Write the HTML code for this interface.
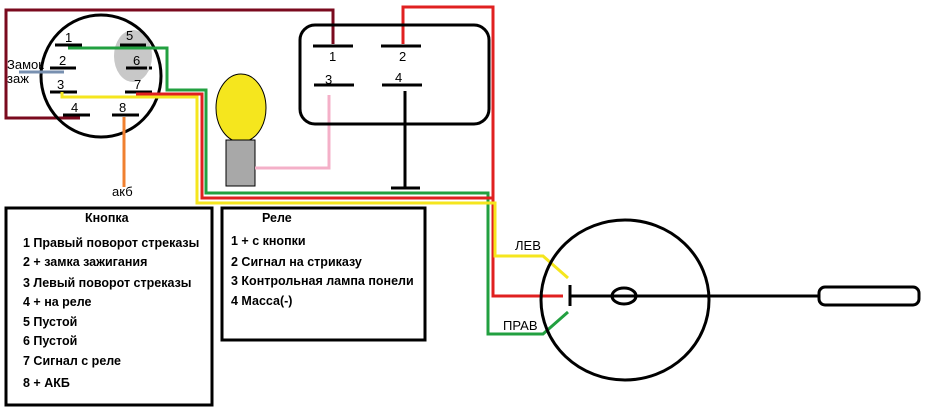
<!DOCTYPE html>
<html><head><meta charset="utf-8"><style>
html,body{margin:0;padding:0;background:#fff;}
svg{display:block;}
text{font-family:"Liberation Sans","DejaVu Sans",sans-serif;}
.b{font-weight:bold;font-size:12.5px;fill:#000;}
.n{font-size:13px;fill:#000;}
</style></head><body>
<svg width="925" height="411" viewBox="0 0 925 411" xmlns="http://www.w3.org/2000/svg">
<rect width="925" height="411" fill="#fff"/>
<!-- maroon -->
<polyline points="80,118 6,118 6,10 333,10 333,44" fill="none" stroke="#7a0a1e" stroke-width="3"/>
<!-- ignition circle -->
<ellipse cx="133" cy="56" rx="19" ry="26" fill="#c8c8c8"/>
<ellipse cx="101" cy="76" rx="60" ry="61" fill="none" stroke="#000" stroke-width="3"/>
<g stroke="#000" stroke-width="3">
<line x1="55" y1="45" x2="82" y2="45"/><line x1="50" y1="68" x2="76" y2="68"/>
<line x1="50" y1="92" x2="77" y2="92"/><line x1="63" y1="115" x2="90" y2="115"/>
<line x1="120" y1="45" x2="146" y2="45"/><line x1="126" y1="68" x2="147" y2="68"/><line x1="149" y1="68" x2="152" y2="68"/>
<line x1="125" y1="92" x2="152" y2="92"/><line x1="112" y1="115" x2="139" y2="115"/>
</g>
<g class="n" font-size="13">
<text x="65" y="42">1</text><text x="59" y="65">2</text><text x="57" y="89">3</text><text x="71" y="112">4</text>
<text x="126" y="40">5</text><text x="133" y="65">6</text><text x="134" y="89">7</text><text x="119" y="112">8</text>
</g>
<line x1="19" y1="72" x2="64" y2="72" stroke="#7890b0" stroke-width="3"/>
<text x="7" y="69" class="n" font-size="11">Замок</text>
<text x="7" y="83" class="n" font-size="11">заж</text>
<!-- orange -->
<line x1="124" y1="117" x2="124" y2="187" stroke="#f08030" stroke-width="3"/>
<text x="112" y="196" class="n" font-size="12">акб</text>
<!-- wires -->
<polyline points="68,48 167,48 167,90 206,90 206,193 488,193 488,334 543,334 568,312" fill="none" stroke="#22a040" stroke-width="3"/>
<polyline points="136,94 202,94 202,198 493,198" fill="none" stroke="#e02020" stroke-width="3"/>
<polyline points="403,44 403,7 493,7 493,296 563,296" fill="none" stroke="#e02020" stroke-width="3"/>
<polyline points="62,92 62,97 197,97 197,203 495,203 495,256 543,256 568,278" fill="none" stroke="#f5e61e" stroke-width="3"/>
<!-- bulb -->
<ellipse cx="241" cy="108" rx="25" ry="34" fill="#f5e61e" stroke="#000" stroke-width="1"/>
<rect x="226" y="140" width="29" height="46" fill="#a8a8a8" stroke="#000" stroke-width="1"/>
<polyline points="255,168 329,168 329,95" fill="none" stroke="#f4b0c8" stroke-width="3"/>
<!-- relay -->
<rect x="300" y="25" width="189" height="99" rx="15" fill="none" stroke="#000" stroke-width="3"/>
<g stroke="#000" stroke-width="3">
<line x1="313" y1="46" x2="353" y2="46"/><line x1="381" y1="46" x2="421" y2="46"/>
<line x1="314" y1="85" x2="354" y2="85"/><line x1="382" y1="85" x2="422" y2="85"/>
<line x1="405" y1="91" x2="405" y2="188"/><line x1="391" y1="188" x2="420" y2="188"/>
</g>
<g class="n"><text x="329" y="61">1</text><text x="399" y="61">2</text><text x="325" y="84">3</text><text x="395" y="82">4</text></g>
<!-- text boxes -->
<rect x="6" y="208" width="206" height="197" fill="none" stroke="#000" stroke-width="3"/>
<rect x="222" y="208" width="203" height="132" fill="none" stroke="#000" stroke-width="3"/>
<g class="b">
<text x="85" y="222">Кнопка</text>
<text x="23" y="247">1 Правый поворот стреказы</text>
<text x="23" y="266">2 + замка зажигания</text>
<text x="23" y="287">3 Левый поворот стреказы</text>
<text x="23" y="306">4 + на реле</text>
<text x="23" y="326">5 Пустой</text>
<text x="23" y="345">6 Пустой</text>
<text x="23" y="365">7 Сигнал с реле</text>
<text x="23" y="387">8 + АКБ</text>
<text x="262" y="222">Реле</text>
<text x="231" y="245">1 + с кнопки</text>
<text x="231" y="266">2 Сигнал на стриказу</text>
<text x="231" y="285">3 Контрольная лампа понели</text>
<text x="231" y="305">4 Масса(-)</text>
</g>
<!-- steering -->
<ellipse cx="625" cy="300" rx="84" ry="80" fill="none" stroke="#000" stroke-width="3"/>
<line x1="570" y1="296" x2="818" y2="296" stroke="#000" stroke-width="3"/>
<line x1="570" y1="285" x2="570" y2="306" stroke="#000" stroke-width="3"/>
<ellipse cx="624" cy="296" rx="12" ry="8" fill="none" stroke="#000" stroke-width="3"/>
<rect x="819" y="287" width="100" height="18" rx="6" fill="none" stroke="#000" stroke-width="3"/>
<text x="515" y="250" class="n" font-size="12">ЛЕВ</text>
<text x="503" y="330" class="n" font-size="12">ПРАВ</text>
</svg>
</body></html>
